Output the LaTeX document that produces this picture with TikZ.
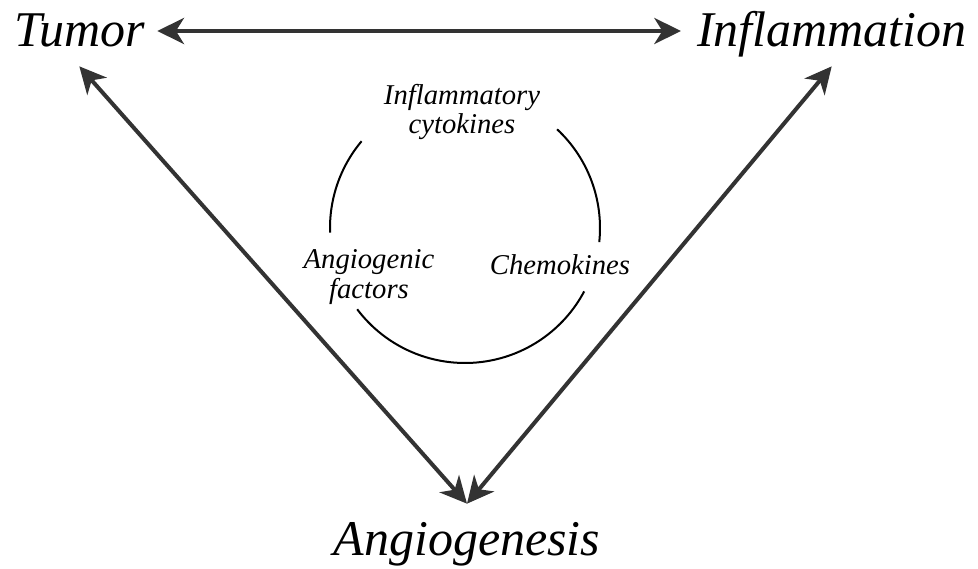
\documentclass[tikz,border=0pt]{standalone}
\usepackage{fontspec}
\setmainfont{Liberation Serif}
\usetikzlibrary{arrows.meta}
\begin{document}
\begin{tikzpicture}[x=.75pt,y=.75pt,line width=3pt,
  big/.style={font=\fontsize{37.5}{40}\selectfont\itshape,inner xsep=6pt,inner ysep=13pt,text height=24pt,text depth=0pt},
  small/.style={font=\fontsize{21.5}{22}\selectfont\itshape,align=center,inner sep=0pt},
  arr/.style={draw=black!80,{Stealth[length=20pt,width=19.5pt,inset=6pt]}-{Stealth[length=20pt,width=19.5pt,inset=6pt]}},
  ring/.style={line width=1.5pt}]
\useasboundingbox (0,0) rectangle (978,568);
\node[big,anchor=base west] (tumor) at (4,521) {Tumor};
\node[big,anchor=base west] (inflam) at (687,521) {Inflammation};
\node[big,anchor=base] (angio) at (467,13) {Angiogenesis};
\node[small] (cyto) at (462,456) {Inflammatory\\cytokines};
\node[small] (angfac) at (369,291) {Angiogenic\\factors};
\node[small,anchor=base] (chemo) at (560,293) {Chemokines};
\draw[arr,shorten <=2pt,shorten >=4.5pt] (tumor.east) -- (inflam.west);
\draw[arr] (tumor.south) -- (angio.north);
\draw[arr] (inflam.south) -- (angio.north);
\coordinate (c) at (465,340);
\draw[ring] (c) ++(140:135) arc[start angle=140,end angle=182,radius=135];
\draw[ring] (c) ++(47:135) arc[start angle=47,end angle=-6,radius=135];
\draw[ring] (c) ++(217:135) arc[start angle=217,end angle=332,radius=135];
\end{tikzpicture}
\end{document}
